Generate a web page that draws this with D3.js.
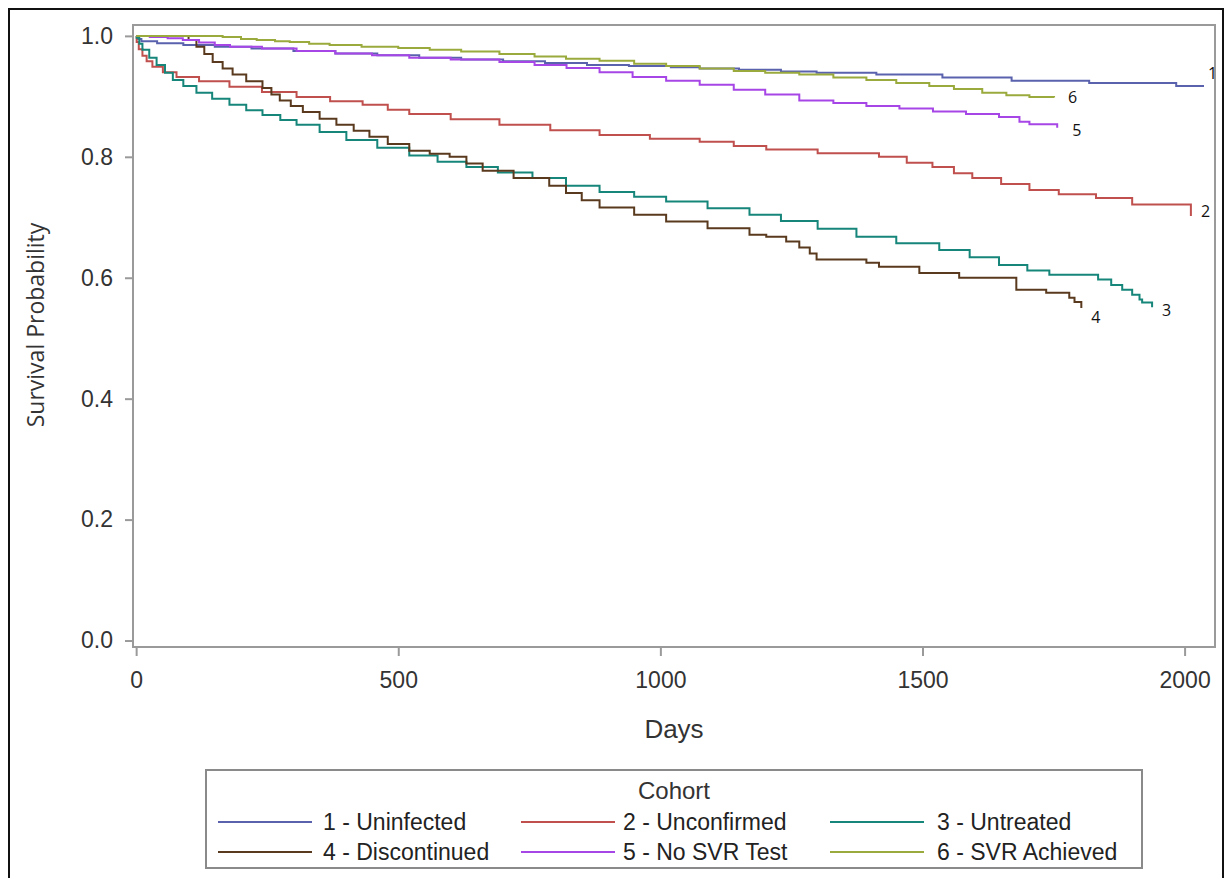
<!DOCTYPE html>
<html>
<head>
<meta charset="utf-8">
<script src="https://cdn.jsdelivr.net/npm/d3@7"></script>
<style>
  body { margin: 0; background: #fff; }
  svg { display: block; }
</style>
</head>
<body>
<svg width="1231" height="878"></svg>
<script>
// Kaplan-Meier curves as [day, survival]
var uninfected = [[0,1.0],[3,0.995],[10,0.991],[40,0.988],[90,0.985],[150,0.982],[220,0.979],[300,0.975],[380,0.971],[460,0.968],[540,0.964],[620,0.961],[700,0.958],[780,0.955],[860,0.952],[940,0.950],[1020,0.948],[1075,0.946],[1150,0.944],[1230,0.941],[1298,0.939],[1412,0.936],[1538,0.931],[1670,0.926],[1818,0.922],[1984,0.917],[2037,0.917]];
var unconfirmed = [[0,1.0],[1,0.990],[5,0.978],[12,0.967],[20,0.958],[31,0.949],[51,0.940],[77,0.932],[120,0.925],[178,0.916],[240,0.907],[306,0.899],[370,0.892],[432,0.886],[480,0.878],[521,0.871],[600,0.862],[693,0.853],[790,0.844],[884,0.836],[980,0.830],[1075,0.825],[1140,0.818],[1202,0.812],[1300,0.806],[1417,0.800],[1470,0.790],[1519,0.783],[1560,0.773],[1595,0.765],[1650,0.755],[1704,0.745],[1760,0.738],[1831,0.732],[1900,0.721],[2012,0.702]];
var untreated = [[0,1.0],[1,0.997],[6,0.987],[12,0.977],[25,0.964],[39,0.952],[55,0.939],[70,0.927],[90,0.917],[115,0.906],[145,0.896],[178,0.886],[210,0.877],[241,0.869],[275,0.861],[306,0.853],[350,0.841],[401,0.828],[460,0.815],[521,0.802],[575,0.792],[630,0.783],[690,0.774],[756,0.765],[820,0.752],[884,0.742],[950,0.734],[1011,0.726],[1090,0.715],[1170,0.704],[1230,0.694],[1300,0.681],[1374,0.668],[1450,0.657],[1532,0.646],[1590,0.634],[1646,0.621],[1700,0.612],[1742,0.605],[1835,0.597],[1860,0.588],[1881,0.580],[1900,0.572],[1914,0.564],[1919,0.559],[1938,0.551]];
var discontinued = [[0,1.0],[100,0.993],[115,0.982],[130,0.970],[146,0.957],[165,0.946],[184,0.936],[210,0.925],[241,0.914],[258,0.903],[274,0.893],[295,0.884],[318,0.874],[350,0.863],[382,0.853],[415,0.843],[445,0.833],[480,0.821],[521,0.810],[560,0.805],[598,0.800],[630,0.789],[661,0.777],[720,0.765],[788,0.752],[820,0.740],[850,0.728],[884,0.716],[950,0.704],[1011,0.693],[1090,0.682],[1170,0.671],[1202,0.668],[1240,0.660],[1265,0.650],[1285,0.640],[1298,0.630],[1393,0.625],[1417,0.618],[1494,0.608],[1570,0.600],[1679,0.580],[1736,0.575],[1780,0.567],[1790,0.560],[1803,0.550]];
var noSvrTest = [[0,1.0],[26,0.998],[60,0.996],[89,0.993],[120,0.989],[150,0.985],[179,0.982],[240,0.979],[306,0.975],[380,0.971],[450,0.968],[521,0.964],[600,0.961],[693,0.957],[760,0.952],[821,0.947],[884,0.940],[947,0.932],[1011,0.926],[1075,0.919],[1140,0.911],[1200,0.903],[1265,0.893],[1330,0.889],[1393,0.884],[1456,0.880],[1520,0.875],[1583,0.871],[1646,0.866],[1685,0.858],[1704,0.854],[1757,0.848]];
var svrAchieved = [[0,1.0],[165,0.998],[200,0.995],[230,0.993],[265,0.991],[293,0.990],[330,0.987],[369,0.985],[430,0.982],[500,0.980],[560,0.977],[620,0.974],[693,0.970],[760,0.966],[820,0.962],[884,0.959],[950,0.954],[1011,0.950],[1075,0.946],[1140,0.942],[1200,0.939],[1265,0.936],[1330,0.931],[1393,0.927],[1450,0.922],[1513,0.917],[1560,0.912],[1614,0.906],[1660,0.902],[1704,0.899],[1751,0.898]];

var cohortNames = ["1 - Uninfected", "2 - Unconfirmed", "3 - Untreated", "4 - Discontinued", "5 - No SVR Test", "6 - SVR Achieved"];
var cohortTags = ["1", "2", "3", "4", "5", "6"];
var cohortData = [uninfected, unconfirmed, untreated, discontinued, noSvrTest, svrAchieved];
var cohortColors = ["#5a62ad", "#c0504d", "#16857a", "#5a3a1e", "#a746e6", "#9aaa3c"];
// where the little number sits relative to the curve's last point
var tagOffsets = [[4,-13],[10,-5],[10,3],[10,9],[15,3],[14,0]];

var xTicks = [0, 500, 1000, 1500, 2000];
var yTicks = [0, 0.2, 0.4, 0.6, 0.8, 1.0];

var svg = d3.select("svg");

// outer frame of the figure
svg.append("rect")
  .attr("x", 9).attr("y", 9)
  .attr("width", 1214).attr("height", 880)
  .attr("fill", "none").attr("stroke", "#111").attr("stroke-width", 2);

var plotL = 133, plotR = 1215, plotT = 25, plotB = 647;

var x = d3.scaleLinear().domain([-6, 2058]).range([plotL, plotR]);
var y = d3.scaleLinear().domain([-0.0107, 1.018]).range([plotB, plotT]);

var xAxis = svg.append("g")
  .attr("transform", "translate(0," + plotB + ")")
  .call(d3.axisBottom(x).tickValues(xTicks).tickFormat(d3.format("d")).tickSize(9).tickPadding(16));
var yAxis = svg.append("g")
  .attr("transform", "translate(" + plotL + ",0)")
  .call(d3.axisLeft(y).tickValues(yTicks).tickFormat(d3.format(".1f")).tickSize(8).tickPadding(12));

[xAxis, yAxis].forEach(function (g) {
  g.select(".domain").remove();
  g.selectAll("line").attr("stroke", "#9a9a9a").attr("stroke-width", 2);
  g.selectAll("text")
    .attr("fill", "#333")
    .style("font-family", "'Liberation Sans', Arial, sans-serif")
    .style("font-size", "23px");
});

// plot frame
svg.append("rect")
  .attr("x", plotL).attr("y", plotT)
  .attr("width", plotR - plotL).attr("height", plotB - plotT)
  .attr("fill", "none").attr("stroke", "#9a9a9a").attr("stroke-width", 2);

var line = d3.line()
  .x(function (d) { return x(d[0]); })
  .y(function (d) { return y(d[1]); })
  .curve(d3.curveStepAfter);

svg.append("g").selectAll("path")
  .data(cohortData)
  .enter().append("path")
  .attr("d", line)
  .attr("fill", "none")
  .attr("stroke", function (d, i) { return cohortColors[i]; })
  .attr("stroke-width", 2);

// number tags at the curve ends
svg.append("g").selectAll("text")
  .data(cohortData)
  .enter().append("text")
  .attr("x", function (d, i) { return x(d[d.length - 1][0]) + tagOffsets[i][0]; })
  .attr("y", function (d, i) { return y(d[d.length - 1][1]) + tagOffsets[i][1]; })
  .attr("dy", "0.35em")
  .attr("fill", "#111")
  .style("font-family", "'Open Sans', sans-serif")
  .style("font-size", "16px")
  .text(function (d, i) { return cohortTags[i]; });

// axis titles
svg.append("text")
  .attr("x", (plotL + plotR) / 2).attr("y", 738)
  .attr("text-anchor", "middle")
  .attr("fill", "#333")
  .style("font-family", "'Liberation Sans', Arial, sans-serif")
  .style("font-size", "26px")
  .text("Days");

svg.append("text")
  .attr("transform", "translate(44,325) rotate(-90)")
  .attr("text-anchor", "middle")
  .attr("fill", "#333")
  .style("font-family", "'Open Sans', sans-serif")
  .style("font-size", "23px")
  .text("Survival Probability");

// legend
var legend = svg.append("g");
legend.append("rect")
  .attr("x", 206).attr("y", 770)
  .attr("width", 936).attr("height", 98)
  .attr("fill", "#fff").attr("stroke", "#8a8a8a").attr("stroke-width", 2);
legend.append("text")
  .attr("x", 674).attr("y", 799)
  .attr("text-anchor", "middle")
  .attr("fill", "#333")
  .style("font-family", "'Liberation Sans', Arial, sans-serif")
  .style("font-size", "24px")
  .text("Cohort");

var colX = [218, 521, 830];
var colTextX = [323, 623, 937];
var rowY = [822, 852];

var item = legend.selectAll("g.item")
  .data(cohortNames)
  .enter().append("g").attr("class", "item")
  .attr("transform", function (d, i) {
    return "translate(0," + rowY[Math.floor(i / 3)] + ")";
  });
item.append("line")
  .attr("x1", function (d, i) { return colX[i % 3]; })
  .attr("x2", function (d, i) { return colX[i % 3] + 94; })
  .attr("stroke", function (d, i) { return cohortColors[i]; })
  .attr("stroke-width", 2);
item.append("text")
  .attr("x", function (d, i) { return colTextX[i % 3]; })
  .attr("dy", "0.36em")
  .attr("fill", "#222")
  .style("font-family", "'Liberation Sans', Arial, sans-serif")
  .style("font-size", "23px")
  .text(function (d) { return d; });
</script>
</body>
</html>
